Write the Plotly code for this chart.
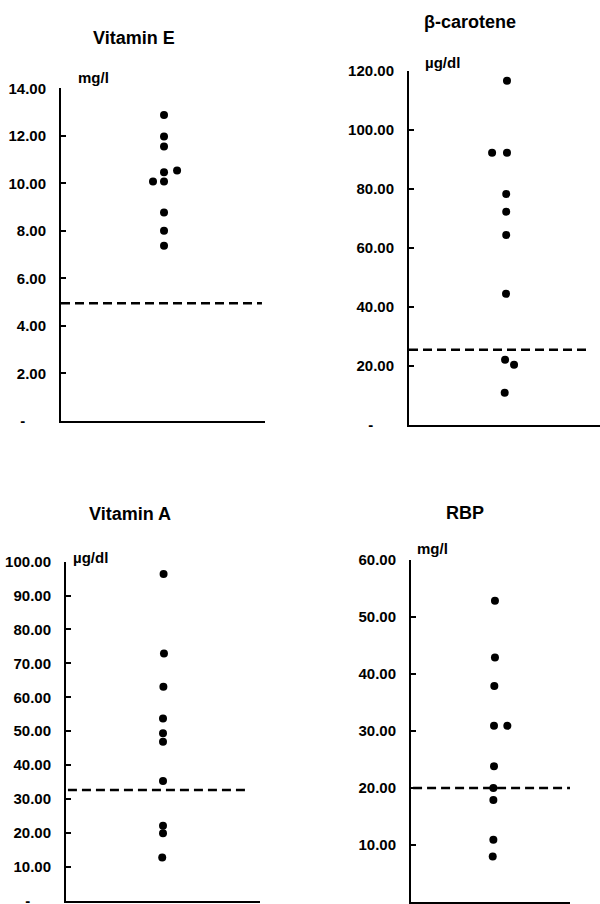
import plotly.graph_objects as go

W, H = 600, 904

# ---------------- data ----------------
vitE_vals = [12.88, 11.97, 11.55, 10.47, 10.54, 10.08, 10.08, 8.77, 8.01, 7.37]
vitE_x = [0.505, 0.505, 0.505, 0.505, 0.569, 0.451, 0.505, 0.505, 0.505, 0.505]
vitE_cut = 4.95
vitE_ticks = [0, 2, 4, 6, 8, 10, 12, 14]
vitE_labels = ["-", "2.00", "4.00", "6.00", "8.00", "10.00", "12.00", "14.00"]

beta_vals = [116.6, 92.2, 92.2, 78.2, 72.2, 64.3, 44.4, 22.0, 20.3, 10.8]
beta_x = [0.513, 0.435, 0.513, 0.509, 0.509, 0.509, 0.508, 0.503, 0.550, 0.501]
beta_cut = 25.4
beta_ticks = [0, 20, 40, 60, 80, 100, 120]
beta_labels = ["-", "20.00", "40.00", "60.00", "80.00", "100.00", "120.00"]

vitA_vals = [96.4, 72.9, 63.1, 53.7, 49.4, 46.9, 35.3, 22.1, 19.9, 12.7]
vitA_x = [0.503, 0.505, 0.502, 0.500, 0.500, 0.500, 0.500, 0.500, 0.500, 0.496]
vitA_cut = 32.6
vitA_ticks = [0, 10, 20, 30, 40, 50, 60, 70, 80, 90, 100]
vitA_labels = ["-", "10.00", "20.00", "30.00", "40.00", "50.00",
               "60.00", "70.00", "80.00", "90.00", "100.00"]

rbp_vals = [52.85, 42.9, 37.9, 30.9, 30.9, 23.8, 20.0, 17.9, 10.9, 8.0]
rbp_x = [0.528, 0.528, 0.524, 0.522, 0.606, 0.522, 0.518, 0.518, 0.518, 0.514]
rbp_cut = 20.0
rbp_ticks = [10, 20, 30, 40, 50, 60]
rbp_labels = ["10.00", "20.00", "30.00", "40.00", "50.00", "60.00"]

titles = ["Vitamin E", "β-carotene", "Vitamin A", "RBP"]
units = ["mg/l", "µg/dl", "µg/dl", "mg/l"]

panels = [
    dict(vals=vitE_vals, x=vitE_x, cut=vitE_cut, ticks=vitE_ticks, labels=vitE_labels, ymax=14),
    dict(vals=beta_vals, x=beta_x, cut=beta_cut, ticks=beta_ticks, labels=beta_labels, ymax=120),
    dict(vals=vitA_vals, x=vitA_x, cut=vitA_cut, ticks=vitA_ticks, labels=vitA_labels, ymax=100),
    dict(vals=rbp_vals, x=rbp_x, cut=rbp_cut, ticks=rbp_ticks, labels=rbp_labels, ymax=60),
]

# ---------------- layout geometry (pixels) ----------------
# (left, right, bottom, top) of each plot area in screen pixels
boxes = [
    (61, 265, 421, 88.3),
    (409, 600, 424.7, 70.7),
    (66, 260, 900.6, 561.7),
    (411, 570, 902, 560),
]
dash_ext = [(0.0, 0.985), (0.0, 0.948), (0.01, 0.938), (0.013, 1.0)]
title_pos = [(134, 38.3), (470, 21.7), (130, 513.7), (464.5, 512.7)]
unit_pos = [(78, 78), (425, 62), (72.7, 557), (416.7, 548.5)]

FONT = "Liberation Sans, Arial, sans-serif"
PAD = "\u00a0" * 5

fig = go.Figure()
layout = dict(
    width=W, height=H,
    margin=dict(l=0, r=0, t=0, b=0, autoexpand=False),
    paper_bgcolor="white", plot_bgcolor="white",
    showlegend=False,
    font=dict(family=FONT, color="black"),
)
annotations = []

for i, p in enumerate(panels):
    n = i + 1
    xa = "x" if n == 1 else f"x{n}"
    ya = "y" if n == 1 else f"y{n}"
    left, right, bottom, top = boxes[i]

    fig.add_trace(go.Scatter(
        x=[dash_ext[i][0], dash_ext[i][1]], y=[p["cut"], p["cut"]],
        mode="lines", line=dict(color="black", width=2.5, dash="9px,5px"),
        xaxis=xa, yaxis=ya, hoverinfo="skip", cliponaxis=False,
    ))
    fig.add_trace(go.Scatter(
        x=p["x"], y=p["vals"], mode="markers",
        marker=dict(color="black", size=8),
        xaxis=xa, yaxis=ya, cliponaxis=False,
    ))

    ticktext = [(t + PAD) if t == "-" else t for t in p["labels"]]

    layout["xaxis" if n == 1 else f"xaxis{n}"] = dict(
        domain=[left / W, right / W], range=[0, 1],
        anchor=ya, showline=True, linecolor="black", linewidth=2,
        showgrid=False, zeroline=False, showticklabels=False, ticks="",
        automargin=False, fixedrange=True,
    )
    layout["yaxis" if n == 1 else f"yaxis{n}"] = dict(
        domain=[1 - bottom / H, 1 - top / H], range=[0, p["ymax"]],
        anchor=xa, showline=True, linecolor="black", linewidth=2,
        showgrid=False, zeroline=False,
        tickmode="array", tickvals=p["ticks"], ticktext=ticktext,
        ticks="inside", ticklen=5, tickwidth=2, tickcolor="black",
        tickfont=dict(family=FONT, size=15, color="black", weight="bold"),
        ticklabelstandoff=10, ticklabeloverflow="allow",
        automargin=False, fixedrange=True,
    )

    tx, ty = title_pos[i]
    annotations.append(dict(
        text=titles[i], x=tx / W, y=1 - ty / H, xref="paper", yref="paper",
        xanchor="center", yanchor="middle", showarrow=False,
        font=dict(family=FONT, size=18, color="black", weight="bold"),
    ))
    ux, uy = unit_pos[i]
    annotations.append(dict(
        text=units[i], x=ux / W, y=1 - uy / H, xref="paper", yref="paper",
        xanchor="left", yanchor="middle", showarrow=False,
        font=dict(family=FONT, size=15, color="black", weight="bold"),
        xshift=-2,
    ))

layout["annotations"] = annotations
fig.update_layout(**layout)

page_fix = (
    "var s=document.createElement('style');"
    "s.innerHTML='html,body{margin:0!important;padding:0!important;"
    "overflow:hidden!important;}';"
    "document.head.appendChild(s);"
)
fig.write_html(
    "out.html",
    config={"displayModeBar": False, "responsive": False},
    post_script=page_fix,
)
